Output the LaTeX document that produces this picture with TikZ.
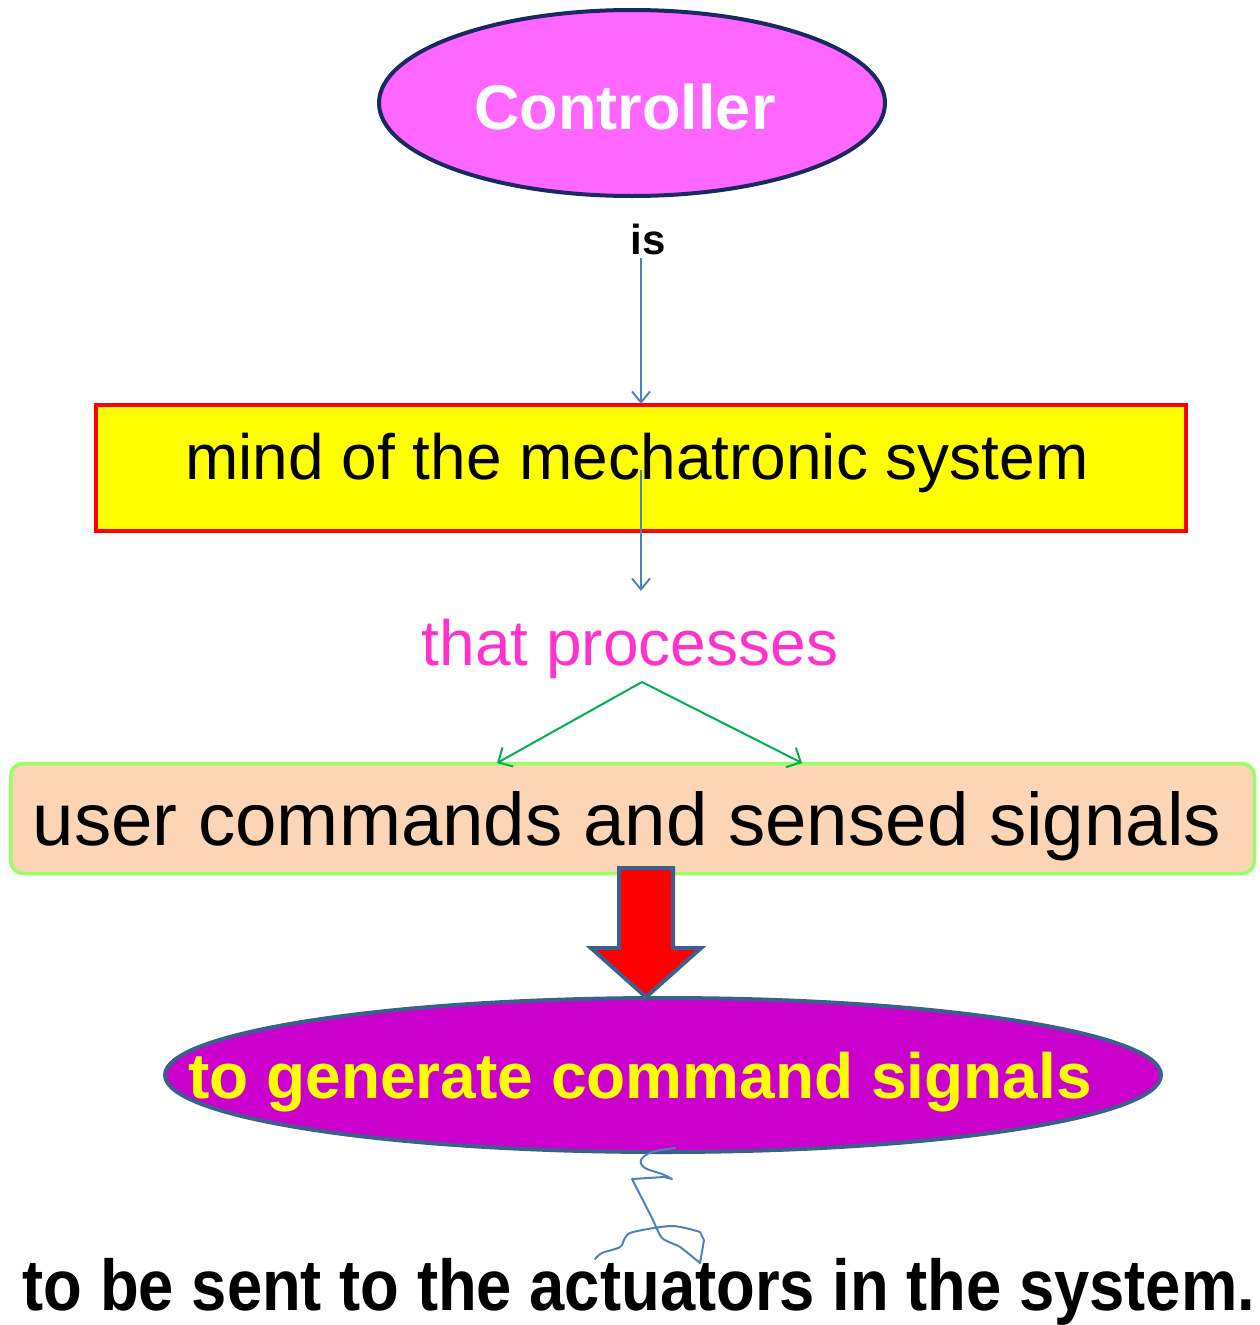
\documentclass[tikz,border=0pt]{standalone}
\usepackage{fontspec}
\setmainfont{Liberation Sans}
\usetikzlibrary{arrows.meta,shapes.geometric}
\definecolor{ctrlpink}{HTML}{FF66FF}
\definecolor{navy}{HTML}{1A2A60}
\definecolor{steel}{HTML}{4F81BD}
\definecolor{magtext}{HTML}{FF33CC}
\definecolor{grn}{HTML}{00B050}
\definecolor{peach}{HTML}{FBD5B5}
\definecolor{lgreen}{HTML}{99FF66}
\definecolor{slate}{HTML}{3D5F8C}
\definecolor{purp}{HTML}{CC00CC}
\definecolor{ylw}{HTML}{FFFF00}
\tikzset{
  thinarrow/.style={steel, line width=2pt, -{Straight Barb[length=11pt,width=18pt,line width=2pt]}},
  grnarrow/.style={grn, line width=2pt, -{Straight Barb[length=11pt,width=22pt,line width=2pt]}},
  lbl/.style={anchor=base, inner sep=0pt},
}
\begin{document}
\begin{tikzpicture}[x=1pt,y=-1pt]
\useasboundingbox (0,0) rectangle (1260,1325);
% Controller
\node[ellipse, draw=navy, line width=4pt, fill=ctrlpink, minimum width=506pt, minimum height=186pt, inner sep=0pt] (ctrl) at (632,103) {};
\node[lbl, text=white, font=\fontsize{63}{70}\selectfont\bfseries] (ctrltxt) at (625,129) {Controller};
% is
\node[lbl, font=\fontsize{42}{48}\selectfont\bfseries] (is) at (648,254) {is};
% mind box
\node[draw=red, line width=3.5pt, fill=ylw, minimum width=1090pt, minimum height=126pt, inner sep=0pt] (mind) at (641,468) {};
\node[lbl, font=\fontsize{64}{70}\selectfont] (mindtxt) at (637,479) {mind of the mechatronic system};
\coordinate (a1s) at (641,258);
\coordinate (a1e) at (641,404);
\draw[thinarrow] (a1s) -- (a1e);
% that processes
\node[lbl, text=magtext, font=\fontsize{64}{70}\selectfont] (proc) at (630,665) {that processes};
\coordinate (a2s) at (641,470);
\coordinate (a2e) at (641,591);
\draw[thinarrow] (a2s) -- (a2e);
% user commands box
\node[draw=lgreen, line width=3.5pt, fill=peach, rounded corners=13pt, minimum width=1244pt, minimum height=110pt, inner sep=0pt] (user) at (632.5,818.5) {};
\node[lbl, font=\fontsize{74.5}{80}\selectfont] (usertxt) at (627,845) {user commands and sensed signals};
\coordinate (fork) at (642,682);
\coordinate (gl) at (497,763);
\coordinate (gr) at (802,763);
\draw[grnarrow] (fork) -- (gl);
\draw[grnarrow] (fork) -- (gr);
% purple ellipse
\node[ellipse, draw=slate, line width=4pt, fill=purp, minimum width=996pt, minimum height=154pt, inner sep=0pt] (gen) at (663,1075) {};
\node[lbl, text=ylw, font=\fontsize{64}{70}\selectfont\bfseries] (gentxt) at (640,1098) {to generate command signals};
% red block arrow
\draw[slate, line width=4pt, fill=red, line join=miter]
  (619,868) -- (673,868) -- (673,948) -- (701,948) -- (646,997) -- (591,948) -- (619,948) -- cycle;
% squiggle
\draw[steel, line width=2pt, line join=round, line cap=round]
  plot[smooth, tension=0.6] coordinates {(675,1148) (652,1152) (641,1160) (645,1168) (662,1174) (672,1179)}
  -- (664,1177) -- (632,1179)
  plot[smooth, tension=0.4] coordinates {(632,1179) (652,1218) (662,1238) (680,1247) (700,1263)}
  -- (704,1240) -- (700,1232)
  plot[smooth, tension=0.5] coordinates {(700,1232) (672,1226) (633,1232) (625,1238) (620,1247) (602,1253) (595,1259)};
% bottom text
\node[lbl, font=\fontsize{72}{78}\selectfont\bfseries] (sent) at (639,1310) {\scalebox{0.88}[1]{to be sent to the actuators in the system.}};
\end{tikzpicture}
\end{document}
